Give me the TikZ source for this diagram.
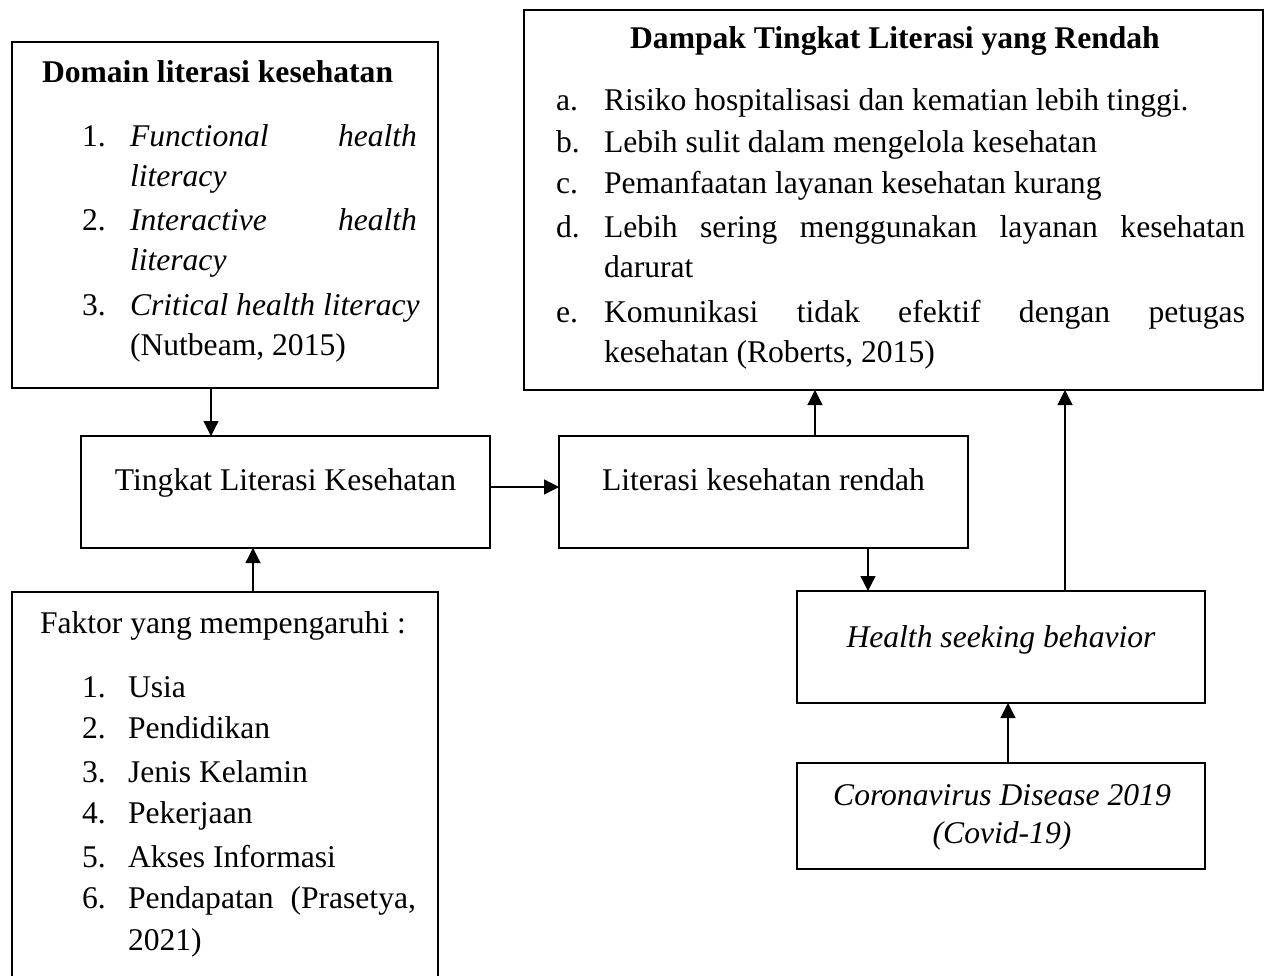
\documentclass[tikz,border=0pt]{standalone}
\usepackage{fontspec}
\setmainfont{Liberation Serif}
\usetikzlibrary{arrows.meta}
\begin{document}
\begin{tikzpicture}[x=0.5pt,y=-0.5pt,
  box/.style={draw=black,line width=1.15pt,inner sep=0pt,outer sep=0pt,fill=none},
  lbl/.style={inner sep=0pt,outer sep=0pt,anchor=base west,font=\fontsize{15.8pt}{19pt}\selectfont},
  clbl/.style={lbl,anchor=base},
  arr/.style={line width=0.65pt,-{Triangle[length=7.5pt,width=7.5pt]}}]
\path[use as bounding box,fill=white] (0,0) rectangle (1269,975);
\begin{scope}
\clip (0,0) rectangle (1269,975);
% boxes
\node[box,minimum width=213pt,minimum height=173pt] (dom) at (225,215) {};
\node[box,minimum width=369.5pt,minimum height=190pt] (dam) at (893.5,200) {};
\node[box,minimum width=204.5pt,minimum height=56pt] (ting) at (285.5,492) {};
\node[box,minimum width=204.5pt,minimum height=56pt] (lit) at (763.5,492) {};
\node[box,minimum width=204pt,minimum height=56pt] (hsb) at (1001,647) {};
\node[box,minimum width=204pt,minimum height=53pt] (cov) at (1001,816) {};
\node[box,minimum width=213pt,minimum height=210pt] (fak) at (225,802) {};
\end{scope}
% Domain text
\node[lbl,font=\fontsize{15.8pt}{19pt}\selectfont\bfseries] (domt) at (42,82) {Domain literasi kesehatan};
\node[lbl] (d1n) at (82,146) {1.};
\node[lbl] (d1a) at (130,146) {\hbox to 143.5pt{\itshape Functional\hfill health}};
\node[lbl] (d1b) at (130,186) {\itshape literacy};
\node[lbl] (d2n) at (82,230) {2.};
\node[lbl] (d2a) at (130,230) {\hbox to 143.5pt{\itshape Interactive\hfill health}};
\node[lbl] (d2b) at (130,270) {\itshape literacy};
\node[lbl] (d3n) at (82,315) {3.};
\node[lbl] (d3a) at (130,315) {\itshape Critical health literacy};
\node[lbl] (d3b) at (130,355) {(Nutbeam, 2015)};
% Dampak text
\node[clbl,font=\fontsize{15.8pt}{19pt}\selectfont\bfseries] (damt) at (895,48) {Dampak Tingkat Literasi yang Rendah};
\node[lbl] (ean) at (556,110) {a.};
\node[lbl] (ea) at (604,110) {Risiko hospitalisasi dan kematian lebih tinggi.};
\node[lbl] (ebn) at (556,152) {b.};
\node[lbl] (eb) at (604,152) {Lebih sulit dalam mengelola kesehatan};
\node[lbl] (ecn) at (556,193) {c.};
\node[lbl] (ec) at (604,193) {Pemanfaatan layanan kesehatan kurang};
\node[lbl] (edn) at (556,237) {d.};
\node[lbl] (ed) at (604,237) {\hbox to 320.5pt{Lebih\hfill sering\hfill menggunakan\hfill layanan\hfill kesehatan}};
\node[lbl] (ed2) at (604,277) {darurat};
\node[lbl] (een) at (556,322) {e.};
\node[lbl] (ee) at (604,322) {\hbox to 320.5pt{Komunikasi\hfill tidak\hfill efektif\hfill dengan\hfill petugas}};
\node[lbl] (ee2) at (604,362) {kesehatan (Roberts, 2015)};
% middle boxes text
\node[clbl] (tingt) at (285.5,490) {Tingkat Literasi Kesehatan};
\node[clbl] (litt) at (763.5,490) {Literasi kesehatan rendah};
\node[clbl] (hsbt) at (1001,647) {\itshape Health seeking behavior};
\node[clbl] (covt1) at (1002,805) {\itshape Coronavirus Disease 2019};
\node[clbl] (covt2) at (1002,843) {\itshape (Covid-19)};
% Faktor text
\node[lbl] (fakt) at (40,633) {Faktor yang mempengaruhi :};
\node[lbl] (f1n) at (82,697) {1.};
\node[lbl] (f1) at (128,697) {Usia};
\node[lbl] (f2n) at (82,738) {2.};
\node[lbl] (f2) at (128,738) {Pendidikan};
\node[lbl] (f3n) at (82,782) {3.};
\node[lbl] (f3) at (128,782) {Jenis Kelamin};
\node[lbl] (f4n) at (82,823) {4.};
\node[lbl] (f4) at (128,823) {Pekerjaan};
\node[lbl] (f5n) at (82,867) {5.};
\node[lbl] (f5) at (128,867) {Akses Informasi};
\node[lbl] (f6n) at (82,908) {6.};
\node[lbl] (f6) at (128,908) {\hbox to 144pt{Pendapatan\hfill(Prasetya,}};
\node[lbl] (f6b) at (128,950) {2021)};
% connector positions
\coordinate (xa) at (211,0);
\coordinate (xb) at (253,0);
\coordinate (ya) at (0,487);
\coordinate (xc) at (815,0);
\coordinate (xd) at (868,0);
\coordinate (xe) at (1065,0);
\coordinate (xf) at (1008,0);
% connectors
\draw[arr] (dom.south -| xa) -- (ting.north -| xa);
\draw[arr] (fak.north -| xb) -- (ting.south -| xb);
\draw[arr] (ting.east |- ya) -- (lit.west |- ya);
\draw[arr] (lit.north -| xc) -- (dam.south -| xc);
\draw[arr] (lit.south -| xd) -- (hsb.north -| xd);
\draw[arr] (hsb.north -| xe) -- (dam.south -| xe);
\draw[arr] (cov.north -| xf) -- (hsb.south -| xf);
\end{tikzpicture}
\end{document}
